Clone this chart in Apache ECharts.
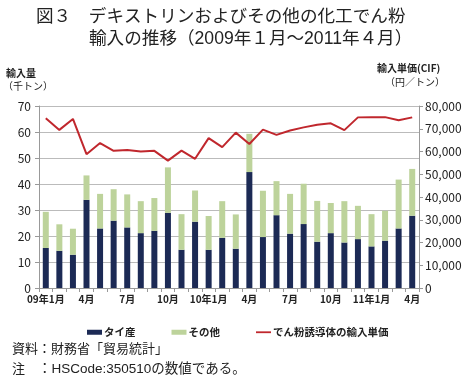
<!DOCTYPE html>
<html><head><meta charset="utf-8">
<script src="https://cdn.jsdelivr.net/npm/echarts@6/dist/echarts.min.js"></script>
<style>html,body{margin:0;padding:0;background:#fff}#c{width:466px;height:385px}</style>
</head><body><div id="c"></div>
<script>
const categories = ["09年1月","2月","3月","4月","5月","6月","7月","8月","9月","10月","11月","12月",
  "10年1月","2月","3月","4月","5月","6月","7月","8月","9月","10月","11月","12月",
  "11年1月","2月","3月","4月"];
const thai = [15.4,14.3,12.8,33.9,22.9,25.9,23.3,21.1,22.0,28.9,14.7,25.5,
  14.7,19.3,15.1,44.6,19.6,28.0,20.9,24.6,17.8,21.1,17.5,18.8,16.0,18.2,22.9,27.8];
const total = [29.3,24.5,22.8,43.3,36.2,38.0,36.0,33.4,34.6,46.4,28.4,37.5,
  27.7,33.4,28.3,59.3,37.4,41.1,36.2,40.1,33.5,32.7,33.4,31.6,28.4,29.7,41.7,45.8];
const others = total.map((t,i)=>+(t-thai[i]).toFixed(1));
const price = [74600,69500,74300,58800,63700,60300,60700,60000,60300,56000,60400,56800,
  65900,61900,68300,63300,69600,67300,69200,70600,71800,72400,69400,75000,75100,75100,73700,75000];

const ff = '"Noto Sans CJK JP", sans-serif';
const fl = '"Liberation Sans", "Noto Sans CJK JP", sans-serif';
const chart = echarts.init(document.getElementById('c'), null, {renderer:'canvas'});
chart.setOption({
  animation:false,
  textStyle:{fontFamily:ff},
  title:[
    {text:'図３　デキストリンおよびその他の化工でん粉', left:31, top:3,
     textStyle:{fontSize:17.6, fontWeight:'normal', color:'#222', fontFamily:fl}},
    {text:'輸入の推移（2009年１月～2011年４月）', left:84, top:25,
     textStyle:{fontSize:17.6, fontWeight:'normal', color:'#222', fontFamily:fl}}
  ],
  graphic:[
    {type:'text', left:6, top:68, style:{text:'輸入量', fontSize:10, fontWeight:'bold', fill:'#222', fontFamily:ff}},
    {type:'text', left:3, top:81, style:{text:'（千トン）', fontSize:10, fill:'#222', fontFamily:ff}},
    {type:'text', left:377, top:63, style:{text:'輸入単価(CIF)', fontSize:10, fontWeight:'bold', fill:'#222', fontFamily:ff}},
    {type:'text', left:385, top:77, style:{text:'（円／トン）', fontSize:10, fill:'#222', fontFamily:ff}},
    {type:'text', left:12, top:343, style:{text:'資料：財務省「貿易統計」', fontSize:13, fill:'#222', fontFamily:fl}},
    {type:'text', left:12, top:363, style:{text:'注', fontSize:13, fill:'#222', fontFamily:fl}},
    {type:'text', left:38, top:363, style:{text:'：HSCode:350510の数値である。', fontSize:13.5, fill:'#222', fontFamily:fl}}
  ],
  legend:{
    top:322, left:82, itemGap:36, itemWidth:15, itemHeight:5,
    textStyle:{fontSize:10.5, fontWeight:'bold', color:'#222', fontFamily:ff, padding:[0,0,0,-3]},
    data:[{name:'タイ産', icon:'rect'},{name:'その他', icon:'rect'},
          {name:'でん粉誘導体の輸入単価', icon:'path://M0,0 M0,1.6 L15,1.6 L15,3.4 L0,3.4 Z M15,5'}]
  },
  grid:{left:39, right:47, top:106, bottom:97},
  xAxis:{
    type:'category', data:categories, boundaryGap:true,
    axisLine:{lineStyle:{color:'#999'}},
    axisTick:{show:true, interval:0, length:4, lineStyle:{color:'#999'}},
    axisLabel:{interval:2, fontSize:10, color:'#222', margin:6, fontWeight:'bold'}
  },
  yAxis:[
    {type:'value', min:0, max:70, interval:10,
     axisLine:{show:true, lineStyle:{color:'#999'}},
     axisTick:{show:true, length:4, lineStyle:{color:'#999'}},
     axisLabel:{fontSize:12, color:'#222', margin:8},
     splitLine:{lineStyle:{color:'#bbb'}}},
    {type:'value', min:0, max:80000, interval:10000,
     axisLine:{show:true, lineStyle:{color:'#999'}},
     axisTick:{show:true, length:4, lineStyle:{color:'#999'}},
     axisLabel:{fontSize:12, color:'#222', margin:6, formatter:v=>v.toLocaleString('en-US')},
     splitLine:{show:false}}
  ],
  series:[
    {name:'タイ産', type:'bar', stack:'a', data:thai, barWidth:6, itemStyle:{color:'#1c2a55'}},
    {name:'その他', type:'bar', stack:'a', data:others, barWidth:6, itemStyle:{color:'#bdd39b'}},
    {name:'でん粉誘導体の輸入単価', type:'line', yAxisIndex:1, data:price, symbol:'none',
     lineStyle:{color:'#c0272d', width:2}, itemStyle:{color:'#c0272d'}}
  ]
});
</script></body></html>
